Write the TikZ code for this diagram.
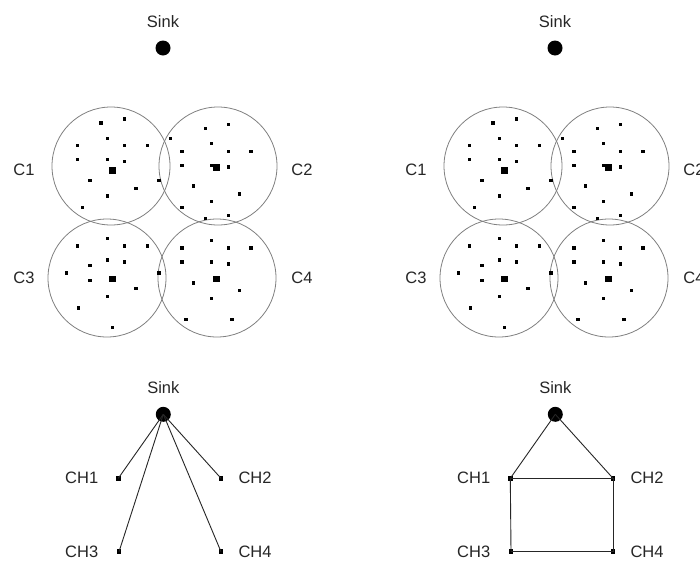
\documentclass[tikz,border=0pt]{standalone}
\usepackage{fontspec}
\setmainfont{Liberation Sans}
\begin{document}
\begin{tikzpicture}[x=1pt,y=-1pt,
  lbl/.style={font=\fontsize{16.5}{18}\selectfont, text=black!85, inner sep=0pt},
  sinkdot/.style={circle, fill=black, minimum size=15pt, inner sep=0pt},
  headsq/.style={fill=black, minimum size=6.5pt, inner sep=0pt},
  chsq/.style={fill=black, minimum size=4.5pt, inner sep=0pt},
  zone/.style={circle, draw=black!50, line width=0.8pt, minimum size=118pt, inner sep=0pt},
  link/.style={draw=black!85, line width=0.9pt}]
\clip (0,0) rectangle (700,560);
\fill[white] (0,0) rectangle (700,560);

% two identical sensor fields, the second shifted to the right
\foreach \s/\dx in {L/0,R/392} {
 \begin{scope}[xshift=\dx]
  \node[lbl] (\s-sinklbl) at (163,22) {Sink};
  \node[sinkdot] (\s-sink) at (163,48) {};
  \node[zone] (\s-c1) at (111,166) {};
  \node[zone] (\s-c2) at (218,166) {};
  \node[zone] (\s-c3) at (107,278) {};
  \node[zone] (\s-c4) at (217,278) {};
  \node[lbl] (\s-c1lbl) at (24,170) {C1};
  \node[lbl] (\s-c2lbl) at (302,170) {C2};
  \node[lbl] (\s-c3lbl) at (24,278) {C3};
  \node[lbl] (\s-c4lbl) at (302,278) {C4};
  % cluster heads
  \node[headsq] (\s-h1) at (112.7,170.7) {};
  \node[headsq] (\s-h2) at (216.7,167.3) {};
  \node[headsq] (\s-h3) at (112.3,279) {};
  \node[headsq] (\s-h4) at (216.7,279) {};
  % member sensors
  \foreach \p in {(101,123),(124.3,119),(107.7,138.3),(77.7,145.7),(124.3,145.7),
      (147.3,145.7),(77.7,159.7),(107.7,159.7),(124.3,161.3),(90,180.3),(159,180.3),
      (136,188.3),(107.7,196),(82.7,207.7),
      (170.3,138.3),(205.3,128.3),(228.3,124.3),(211.3,143.7),(182,151.7),(228.3,151.7),
      (251,151.7),(182,165.3),(211.3,165.3),(228.3,167),(193.7,186),(239.7,194),
      (211.3,201.3),(182,207.3),(205.3,218.7),(228.3,215.3),
      (107.7,238.3),(77.7,246),(124.3,246),(147.3,246),(107.7,260),(124.3,262),
      (90,265.3),(66.7,273),(90,280.7),(159,273),(136,288.7),(107.7,296.3),
      (78.3,308),(112.7,327.3),
      (211.3,240.7),(182,248),(228.3,248),(251,248),(182,262),(211.3,262),
      (228.3,264),(193.7,283),(239.7,290.7),(211.3,298.7),(186,319.3),(232,319.3)}
    \fill[black] \p +(-1.6,-1.6) rectangle +(1.6,1.6);
  % lower diagram: sink and cluster heads
  \node[lbl] (\s-bsinklbl) at (163.3,387.3) {Sink};
  \node[sinkdot] (\s-bsink) at (163.3,414.3) {};
  \node[chsq] (\s-ch1) at (118.3,478.3) {};
  \node[chsq] (\s-ch2) at (221,478.3) {};
  \node[chsq] (\s-ch3) at (119,551.7) {};
  \node[chsq] (\s-ch4) at (221,551.7) {};
  \node[lbl] (\s-ch1lbl) at (81.7,478.3) {CH1};
  \node[lbl] (\s-ch2lbl) at (255,478.3) {CH2};
  \node[lbl] (\s-ch3lbl) at (81.7,551.7) {CH3};
  \node[lbl] (\s-ch4lbl) at (255,551.7) {CH4};
 \end{scope}
}

% direct links: every head talks to the sink
\draw[link] (L-bsink.center) -- (L-ch1.center);
\draw[link] (L-bsink.center) -- (L-ch2.center);
\draw[link] (L-bsink.center) -- (L-ch3.center);
\draw[link] (L-bsink.center) -- (L-ch4.center);

% multi-hop links between heads
\draw[link] (R-bsink.center) -- (R-ch1.center);
\draw[link] (R-bsink.center) -- (R-ch2.center);
\draw[link] (R-ch1.center) -- (R-ch2.center);
\draw[link] (R-ch1.center) -- (R-ch3.center);
\draw[link] (R-ch2.center) -- (R-ch4.center);
\draw[link] (R-ch3.center) -- (R-ch4.center);
\end{tikzpicture}
\end{document}
